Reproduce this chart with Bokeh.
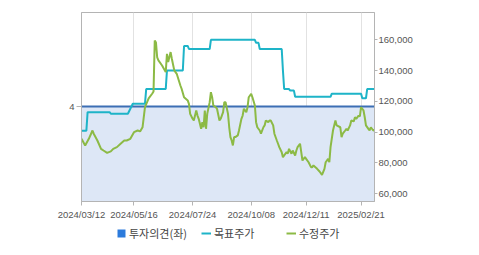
from bokeh.plotting import figure
from bokeh.layouts import column
from bokeh.models import (Range1d, LinearAxis, FixedTicker, NumeralTickFormatter,
                          Legend, LegendItem)
from bokeh.embed import file_html
from bokeh.resources import INLINE

# ---- data (x = trading-day index) ----
tick_idx = [0, 43, 91, 139, 184, 229]
tick_labels = ["2024/03/12", "2024/05/16", "2024/07/24", "2024/10/08", "2024/12/11", "2025/02/21"]

opinion_idx = [0, 240]
opinion = [4, 4]

target_idx = [0, 4, 5, 23, 24, 38, 42, 52, 53, 69, 70, 83, 84, 87, 88, 105, 106, 142,
              143, 145, 146, 164, 165, 166, 170, 171, 174, 175, 204, 205, 229, 230, 233, 234, 240]
target = [101000, 101000, 113000, 113000, 112000, 112000, 118500, 118500, 128000, 128000,
          140000, 140000, 156000, 156000, 154000, 154000, 160000, 160000, 158000, 158000,
          154000, 154000, 140000, 128000, 128000, 127000, 127000, 123000, 123000, 125000,
          125000, 122000, 122000, 128000, 128000]

price_idx = [0, 3, 6, 9, 10, 13, 16, 18, 21, 24,
             26, 29, 32, 35, 37, 40, 43, 46, 48, 50,
             52, 55, 58, 59, 60, 61, 62, 63, 66, 69,
             70, 71, 73, 74, 76, 78, 81, 82, 84, 87,
             88, 89, 91, 92, 94, 95, 96, 98, 99, 100,
             101, 102, 103, 105, 106, 107, 108, 110, 111, 113,
             114, 116, 117, 118, 120, 121, 122, 123, 124, 125,
             126, 128, 129, 131, 132, 133, 135, 136, 137, 139,
             140, 142, 143, 144, 146, 147, 149, 150, 151, 153,
             154, 155, 157, 158, 160, 161, 162, 164, 165, 166,
             168, 169, 170, 172, 173, 175, 176, 177, 179, 180,
             181, 183, 184, 186, 188, 189, 190, 193, 195, 197,
             199, 200, 202, 203, 204, 206, 208, 209, 212, 213,
             214, 216, 217, 218, 220, 221, 223, 224, 225, 227,
             228, 229, 231, 232, 233, 235, 236, 237, 239, 240]
price = [95700, 91400, 95700, 101100, 99000, 94600, 89200, 88100, 86600, 87500,
         89200, 90300, 92500, 94600, 94600, 95700, 100000, 101100, 100500, 103200,
         116200, 121900, 125100, 126400, 159500, 158200, 148500, 146600, 143300, 139000,
         150900, 145500, 152000, 147700, 140100, 137900, 130300, 128200, 122700, 120600,
         118400, 111900, 108700, 107600, 114100, 110800, 108700, 102200, 106500, 103200,
         114100, 102200, 111900, 119500, 126000, 122700, 117300, 116200, 115200, 107600,
         108700, 113000, 119500, 119500, 111900, 103200, 96800, 94600, 91400, 96800,
         96800, 97900, 101100, 108700, 110800, 115200, 113000, 116200, 122700, 124900,
         122700, 117300, 106500, 103200, 101100, 99000, 103200, 104400, 107600, 106500,
         107600, 107600, 104400, 99000, 94600, 92500, 90300, 87000, 83800, 84900,
         87000, 86200, 89200, 86000, 88100, 84900, 88100, 90300, 92500, 87000,
         81600, 83800, 82700, 80500, 77300, 77300, 78400, 76200, 74500, 72300,
         76200, 80500, 82700, 80500, 90300, 101100, 107600, 104400, 103200, 96800,
         99000, 101100, 102200, 101100, 104400, 107600, 107000, 109700, 108700, 110800,
         110200, 116200, 114100, 109700, 104400, 102200, 101100, 103200, 101100, 101400]

price_ticks = [60000, 80000, 100000, 120000, 140000, 160000]

legend_labels = ["투자의견(좌)", "목표주가", "수정주가"]

C_OP_FILL = "#dde7f6"
C_OP_LINE = "#3c6eb4"
C_OP_KEY = "#2c7bdc"
C_TARGET = "#1eb4c8"
C_PRICE = "#8cba45"

# ---- main chart ----
p = figure(width=479, height=224, output_backend="svg", toolbar_location=None,
           x_range=Range1d(0, 240), y_range=Range1d(55000, 177700),
           y_axis_location="right",
           min_border_left=81, min_border_right=105, min_border_top=12, min_border_bottom=23)
p.background_fill_color = "white"
p.border_fill_color = "white"
p.outline_line_color = "#b4b4b4"
p.outline_line_width = 1
p.extra_y_ranges = {"op": Range1d(0, 7.96)}

lbl_font = "Liberation Sans"
axis_col = "#b4b4b4"
txt_col = "#555555"

xa = p.xaxis[0]
xa.ticker = FixedTicker(ticks=tick_idx)
xa.major_label_overrides = {i: s for i, s in zip(tick_idx, tick_labels)}
xa.minor_tick_line_color = None
xa.major_tick_in = 0
xa.major_tick_out = 4
xa.major_label_standoff = 3
xa.axis_line_color = axis_col
xa.major_tick_line_color = axis_col
xa.major_label_text_font = lbl_font
xa.major_label_text_font_size = "9.5px"
xa.major_label_text_color = txt_col

ya = p.yaxis[0]
ya.ticker = FixedTicker(ticks=price_ticks)
ya.formatter = NumeralTickFormatter(format="0,0")
ya.minor_tick_line_color = None
ya.major_tick_in = 0
ya.major_tick_out = 3
ya.major_label_standoff = 1
ya.axis_line_color = axis_col
ya.major_tick_line_color = axis_col
ya.major_label_text_font = lbl_font
ya.major_label_text_font_size = "9.5px"
ya.major_label_text_color = txt_col

la = LinearAxis(y_range_name="op", ticker=FixedTicker(ticks=[4]))
la.minor_tick_line_color = None
la.major_tick_in = 0
la.major_tick_out = 5
la.major_label_standoff = 2
la.axis_line_color = axis_col
la.major_tick_line_color = axis_col
la.major_label_text_font = lbl_font
la.major_label_text_font_size = "9.5px"
la.major_label_text_color = txt_col
p.add_layout(la, "left")

p.xgrid.ticker = FixedTicker(ticks=tick_idx)
p.xgrid.grid_line_color = "#e2e2e2"
p.ygrid.grid_line_color = None

p.varea(x=opinion_idx, y1=[0, 0], y2=opinion, y_range_name="op",
        fill_color=C_OP_FILL, fill_alpha=1)
p.line(opinion_idx, opinion, y_range_name="op", line_color=C_OP_LINE, line_width=2)
p.line(target_idx, target, line_color=C_TARGET, line_width=2)
p.line(price_idx, price, line_color=C_PRICE, line_width=2)

# ---- legend strip (frame is aligned with the main chart's frame) ----
lg = figure(width=479, height=31, output_backend="svg", toolbar_location=None,
            x_axis_type=None, y_axis_type=None,
            x_range=Range1d(0, 1), y_range=Range1d(0, 1),
            min_border_left=81, min_border_right=105, min_border_top=0, min_border_bottom=0)
lg.outline_line_color = None
lg.background_fill_color = "white"
lg.border_fill_color = "white"
lg.xgrid.grid_line_color = None
lg.ygrid.grid_line_color = None
# key swatches: placed outside the strip's visible range so only the legend shows them
k_op = lg.quad(left=[5], right=[6], top=[6], bottom=[5], fill_color=C_OP_KEY, line_color=None)
k_tg = lg.line([5, 6], [5, 5], line_color=C_TARGET, line_width=2)
k_pr = lg.line([5, 6], [5, 5], line_color=C_PRICE, line_width=2)

legend = Legend(items=[LegendItem(label=legend_labels[0], renderers=[k_op]),
                       LegendItem(label=legend_labels[1], renderers=[k_tg]),
                       LegendItem(label=legend_labels[2], renderers=[k_pr])],
                orientation="horizontal", location=(35, 14),
                glyph_width=10, glyph_height=10, label_standoff=3,
                label_width=71, label_height=12, spacing=1,
                padding=0, margin=0,
                border_line_color=None, background_fill_alpha=0,
                label_text_font="Noto Sans CJK KR", label_text_font_size="11px",
                label_text_color="#444444")
lg.add_layout(legend, "center")

layout = column(p, lg, spacing=0)
open("out.html", "w").write(file_html(layout, INLINE))
